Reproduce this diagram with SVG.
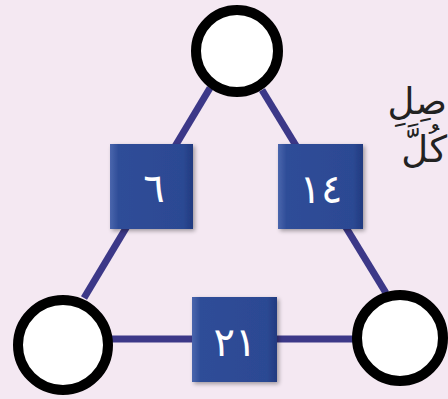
<svg xmlns="http://www.w3.org/2000/svg" width="448" height="399" viewBox="0 0 448 399">
  <defs>
    <linearGradient id="sq" x1="0" y1="0" x2="1" y2="0">
      <stop offset="0" stop-color="#4a66ad"/>
      <stop offset="0.1" stop-color="#2f4d98"/>
      <stop offset="0.88" stop-color="#2c4993"/>
      <stop offset="1" stop-color="#213a80"/>
    </linearGradient>
    <filter id="sh" x="-10%" y="-10%" width="125%" height="125%">
      <feGaussianBlur in="SourceAlpha" stdDeviation="2"/>
      <feOffset dx="2" dy="2" result="b"/>
      <feComponentTransfer><feFuncA type="linear" slope="0.35"/></feComponentTransfer>
      <feMerge><feMergeNode/><feMergeNode in="SourceGraphic"/></feMerge>
    </filter>
  </defs>
  <style>
    .bg { fill: #f4e8f2; }
    .edge { stroke: #3c3888; stroke-width: 7; fill: none; stroke-linecap: butt; }
    .circ { fill: #ffffff; stroke: #000000; stroke-width: 10; }
    .box { fill: url(#sq); filter: url(#sh); }
    .num { font-family: "DejaVu Sans", sans-serif; font-size: 40px; fill: #ffffff; text-anchor: middle; }
    .ar { font-family: "DejaVu Sans", sans-serif; font-size: 37px; fill: #222222; text-anchor: end; }
  </style>
  <rect class="bg" x="0" y="0" width="448" height="399"/>
  <g id="connectors">
    <line class="edge" x1="210" y1="88" x2="84" y2="298"/>
    <line class="edge" x1="262" y1="90" x2="386" y2="293"/>
    <line class="edge" x1="110" y1="339" x2="356" y2="339"/>
  </g>
  <g id="node-top"><circle class="circ" cx="237" cy="51" r="41"/></g>
  <g id="node-left"><circle class="circ" cx="63" cy="345" r="45"/></g>
  <g id="node-right"><circle class="circ" cx="400" cy="338" r="43"/></g>
  <g id="box-6">
    <rect class="box" x="110" y="144" width="83" height="85"/>
    <text class="num" x="154" y="202">٦</text>
  </g>
  <g id="box-14">
    <rect class="box" x="278" y="144" width="85" height="85"/>
    <text class="num" x="321" y="203">١٤</text>
  </g>
  <g id="box-21">
    <rect class="box" x="192" y="297" width="85" height="85"/>
    <text class="num" x="235" y="356">٢١</text>
  </g>
  <g id="side-text">
    <text class="ar" x="447" y="114">صِلِ</text>
    <text class="ar" x="447" y="162">كُلَّ</text>
  </g>
</svg>
